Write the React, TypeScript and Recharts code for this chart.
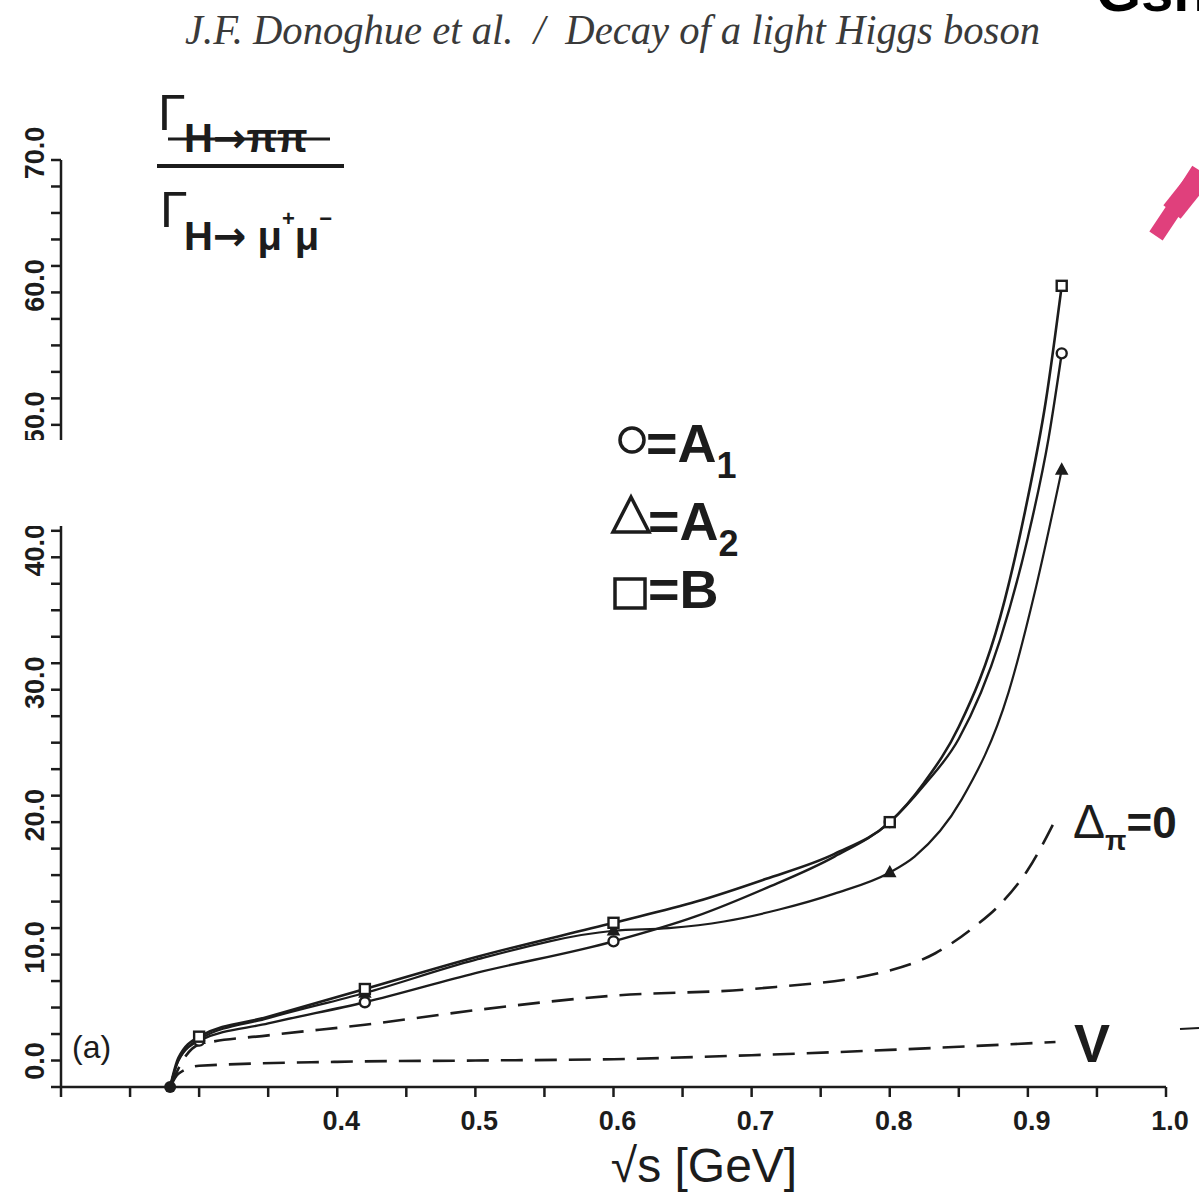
import React from "react"
import { LineChart, Line, XAxis, YAxis } from "recharts"

// sqrt(s) in GeV, ratio Gamma(H->pi pi) / Gamma(H->mu mu)
const bX = [0.279, 0.285, 0.3, 0.35, 0.42, 0.5, 0.6, 0.66, 0.71, 0.76, 0.8, 0.825, 0.85, 0.88, 0.898, 0.913, 0.9245]
const bY = [0, 2.2, 3.8, 5.3, 7.4, 9.8, 12.4, 14.0, 15.7, 17.6, 20.0, 23.0, 27.2, 35.5, 43.5, 51.8, 60.5]

const a1X = [0.279, 0.285, 0.3, 0.35, 0.42, 0.5, 0.6, 0.66, 0.71, 0.76, 0.8, 0.825, 0.85, 0.88, 0.9, 0.915, 0.9245]
const a1Y = [0, 2.0, 3.5, 4.8, 6.4, 8.6, 11.0, 12.9, 15.0, 17.4, 20.0, 22.8, 26.3, 33.8, 41.5, 49.0, 55.4]

const a2X = [0.279, 0.285, 0.3, 0.35, 0.42, 0.5, 0.6, 0.64, 0.68, 0.72, 0.76, 0.8, 0.818, 0.852, 0.886, 0.906, 0.9245]
const a2Y = [0, 2.0, 3.6, 5.2, 7.1, 9.6, 11.8, 12.0, 12.5, 13.4, 14.6, 16.2, 17.4, 21.7, 29.8, 37.8, 46.6]

const deltaX = [0.279, 0.29, 0.3, 0.35, 0.42, 0.5, 0.6, 0.7, 0.8, 0.833, 0.86, 0.88, 0.9, 0.92]
const deltaY = [0, 2.3, 3.2, 3.9, 4.7, 5.8, 6.9, 7.4, 8.8, 10.1, 12.0, 13.8, 16.4, 20.2]

const vX = [0.279, 0.285, 0.3, 0.4, 0.5, 0.6, 0.7, 0.8, 0.92]
const vY = [0, 1.0, 1.6, 1.9, 2.0, 2.1, 2.4, 2.8, 3.4]

// points where the calculation was done (drawn with symbols)
const markerX = [0.3, 0.42, 0.6, 0.8, 0.9245]

const xTicks = [0.2, 0.25, 0.3, 0.35, 0.4, 0.45, 0.5, 0.55, 0.6, 0.65, 0.7, 0.75, 0.8, 0.85, 0.9, 0.95, 1.0]
const yTicks = [0, 2, 4, 6, 8, 10, 12, 14, 16, 18, 20, 22, 24, 26, 28, 30, 32, 34, 36, 38, 40, 42, 44, 46, 48, 50, 52, 54, 56, 58, 60, 62, 64, 66, 68, 70]

const toPoints = (xs: number[], ys: number[]) => xs.map((x, i) => ({ x, y: ys[i] }))

const bData = toPoints(bX, bY)
const a1Data = toPoints(a1X, a1Y)
const a2Data = toPoints(a2X, a2Y)
const deltaData = toPoints(deltaX, deltaY)
const vData = toPoints(vX, vY)

const INK = "#1c1c1c"
const SANS = "'Liberation Sans', Arial, sans-serif"
const ARROW_FONT = "'DejaVu Sans', sans-serif"

const isMarker = (x: number) => markerX.some((m) => Math.abs(m - x) < 1e-6)

const makeDot = (shape: "square" | "circle" | "triangle") => (props: any) => {
  const { cx, cy, payload, index } = props
  if (!isMarker(payload.x)) return <g key={`e-${shape}-${index}`} />
  if (shape === "square")
    return <rect key={`s-${index}`} x={cx - 5} y={cy - 5} width={10} height={10} fill="#fff" stroke={INK} strokeWidth={2.4} />
  if (shape === "circle")
    return <circle key={`c-${index}`} cx={cx} cy={cy} r={5} fill="#fff" stroke={INK} strokeWidth={2.4} />
  return (
    <path key={`t-${index}`} d={`M${cx},${cy - 6} L${cx + 5.5},${cy + 4} L${cx - 5.5},${cy + 4} Z`} fill={INK} stroke={INK} strokeWidth={1.5} />
  )
}

const thresholdDot = (props: any) => {
  const { cx, cy, index } = props
  if (index !== 0) return <g key={`v-${index}`} />
  return <circle key="thr" cx={cx} cy={cy} r={6} fill={INK} />
}

const XTick = (props: any) => {
  const { x, y, payload } = props
  const v = payload.value as number
  const major = Math.abs(v * 10 - Math.round(v * 10)) < 1e-6
  if (!major || v < 0.39) return <g />
  return (
    <text x={x + 4} y={y + 31} textAnchor="middle" fontFamily={SANS} fontWeight="bold" fontSize={27} fill={INK}>
      {v.toFixed(1)}
    </text>
  )
}

const YTick = (props: any) => {
  const { y, payload } = props
  const v = payload.value as number
  if (v % 10 !== 0) return <g />
  const cy = v === 0 ? y - 26 : y - 7
  return (
    <text
      x={35}
      y={cy}
      transform={`rotate(-90, 35, ${cy})`}
      textAnchor="middle"
      dominantBaseline="central"
      fontFamily={SANS}
      fontWeight="bold"
      fontSize={27}
      fill={INK}
    >
      {v.toFixed(1)}
    </text>
  )
}

function Annotations() {
  return (
    <svg width={1199} height={1197} style={{ position: "absolute", left: 0, top: 0, pointerEvents: "none" }}>
      {/* running head of the page */}
      <text x={185} y={44} fontFamily="'Liberation Serif', serif" fontStyle="italic" fontSize={42} fill="#3a3a3a" textLength={855} lengthAdjust="spacingAndGlyphs">
        J.F. Donoghue et al.{"\u00a0\u00a0"}/{"\u00a0\u00a0"}Decay of a light Higgs boson
      </text>
      <text x={1096} y={11} fontFamily={SANS} fontWeight="bold" fontSize={58} fill="#000">Gsh</text>
      <path d="M1156,236 L1176,206 L1199,170" stroke="#e0407c" strokeWidth={16} fill="none" strokeLinecap="butt" />
      <path d="M1172,212 L1199,178" stroke="#e0407c" strokeWidth={22} fill="none" />

      {/* gap in the scanned axis */}
      <rect x={0} y={440} width={75} height={86} fill="#fff" />

      {/* y quantity */}
      <text x={158} y={130} fontFamily={SANS} fontSize={50} fill={INK}>Γ</text>
      <text x={184} y={152} fontFamily={SANS} fontWeight="bold" fontSize={40} fill={INK}>
        H<tspan fontFamily={ARROW_FONT} fontSize={40}>→</tspan>ππ
      </text>
      <line x1={168} y1={139} x2={330} y2={139} stroke={INK} strokeWidth={3} />
      <line x1={157} y1={166} x2={344} y2={166} stroke={INK} strokeWidth={4} />
      <text x={160} y={227} fontFamily={SANS} fontSize={50} fill={INK}>Γ</text>
      <text x={184} y={250} fontFamily={SANS} fontWeight="bold" fontSize={40} fill={INK}>
        H<tspan fontFamily={ARROW_FONT} fontSize={40}>→</tspan> μ<tspan dy={-24} fontSize={22}>+</tspan><tspan dy={24} fontSize={40}>μ</tspan><tspan dy={-24} fontSize={22}>−</tspan>
      </text>

      {/* symbol key */}
      <circle cx={632} cy={440} r={12} fill="none" stroke={INK} strokeWidth={3.5} />
      <text x={646} y={462} fontFamily={SANS} fontWeight="bold" fontSize={54} fill={INK}>
        =A<tspan dy={16} fontSize={36}>1</tspan>
      </text>
      <path d="M631,497 L649,532 L613,532 Z" fill="none" stroke={INK} strokeWidth={3.5} />
      <text x={648} y={540} fontFamily={SANS} fontWeight="bold" fontSize={54} fill={INK}>
        =A<tspan dy={16} fontSize={36}>2</tspan>
      </text>
      <rect x={615} y={579} width={30} height={29} fill="none" stroke={INK} strokeWidth={3.5} />
      <text x={648} y={608} fontFamily={SANS} fontWeight="bold" fontSize={54} fill={INK}>=B</text>

      {/* curve labels */}
      <text x={1073} y={838} fontFamily={SANS} fontSize={48} fill={INK}>
        Δ<tspan dy={12} fontSize={28} fontWeight="bold">π</tspan><tspan dy={-12} fontSize={44} fontWeight="bold">=0</tspan>
      </text>
      <text x={1074} y={1062} fontFamily={SANS} fontWeight="bold" fontSize={54} fill={INK}>V</text>
      <line x1={1180} y1={1029} x2={1199} y2={1028} stroke={INK} strokeWidth={2} />
      <text x={72} y={1058} fontFamily={SANS} fontSize={32} fill={INK}>(a)</text>

      {/* x quantity */}
      <text x={704} y={1182} textAnchor="middle" fontFamily={SANS} fontSize={48} fill={INK}>√s [GeV]</text>
    </svg>
  )
}

export default function App() {
  return (
    <div style={{ position: "absolute", left: 0, top: 0, width: 1199, height: 1197, background: "#fff" }}>
      <LineChart width={1199} height={1197} margin={{ top: 160, right: 33, bottom: 80, left: 0 }}>
        <XAxis
          type="number"
          dataKey="x"
          domain={[0.2, 1.0]}
          ticks={xTicks}
          allowDataOverflow
          interval={0}
          height={30}
          tickSize={10}
          tickMargin={2}
          stroke={INK}
          strokeWidth={2.5}
          tick={<XTick />}
        />
        <YAxis
          type="number"
          domain={[0, 70]}
          ticks={yTicks}
          interval={0}
          width={61}
          tickSize={10}
          stroke={INK}
          strokeWidth={2.5}
          tick={<YTick />}
        />
        <Line data={vData} dataKey="y" type="monotone" stroke={INK} strokeWidth={2.6} strokeDasharray="22 12" dot={thresholdDot} activeDot={false} isAnimationActive={false} />
        <Line data={deltaData} dataKey="y" type="monotone" stroke={INK} strokeWidth={2.6} strokeDasharray="22 12" dot={false} activeDot={false} isAnimationActive={false} />
        <Line data={a2Data} dataKey="y" type="monotone" stroke={INK} strokeWidth={2.2} dot={makeDot("triangle")} activeDot={false} isAnimationActive={false} />
        <Line data={a1Data} dataKey="y" type="monotone" stroke={INK} strokeWidth={2.4} dot={makeDot("circle")} activeDot={false} isAnimationActive={false} />
        <Line data={bData} dataKey="y" type="monotone" stroke={INK} strokeWidth={2.6} dot={makeDot("square")} activeDot={false} isAnimationActive={false} />
      </LineChart>
      <Annotations />
    </div>
  )
}
